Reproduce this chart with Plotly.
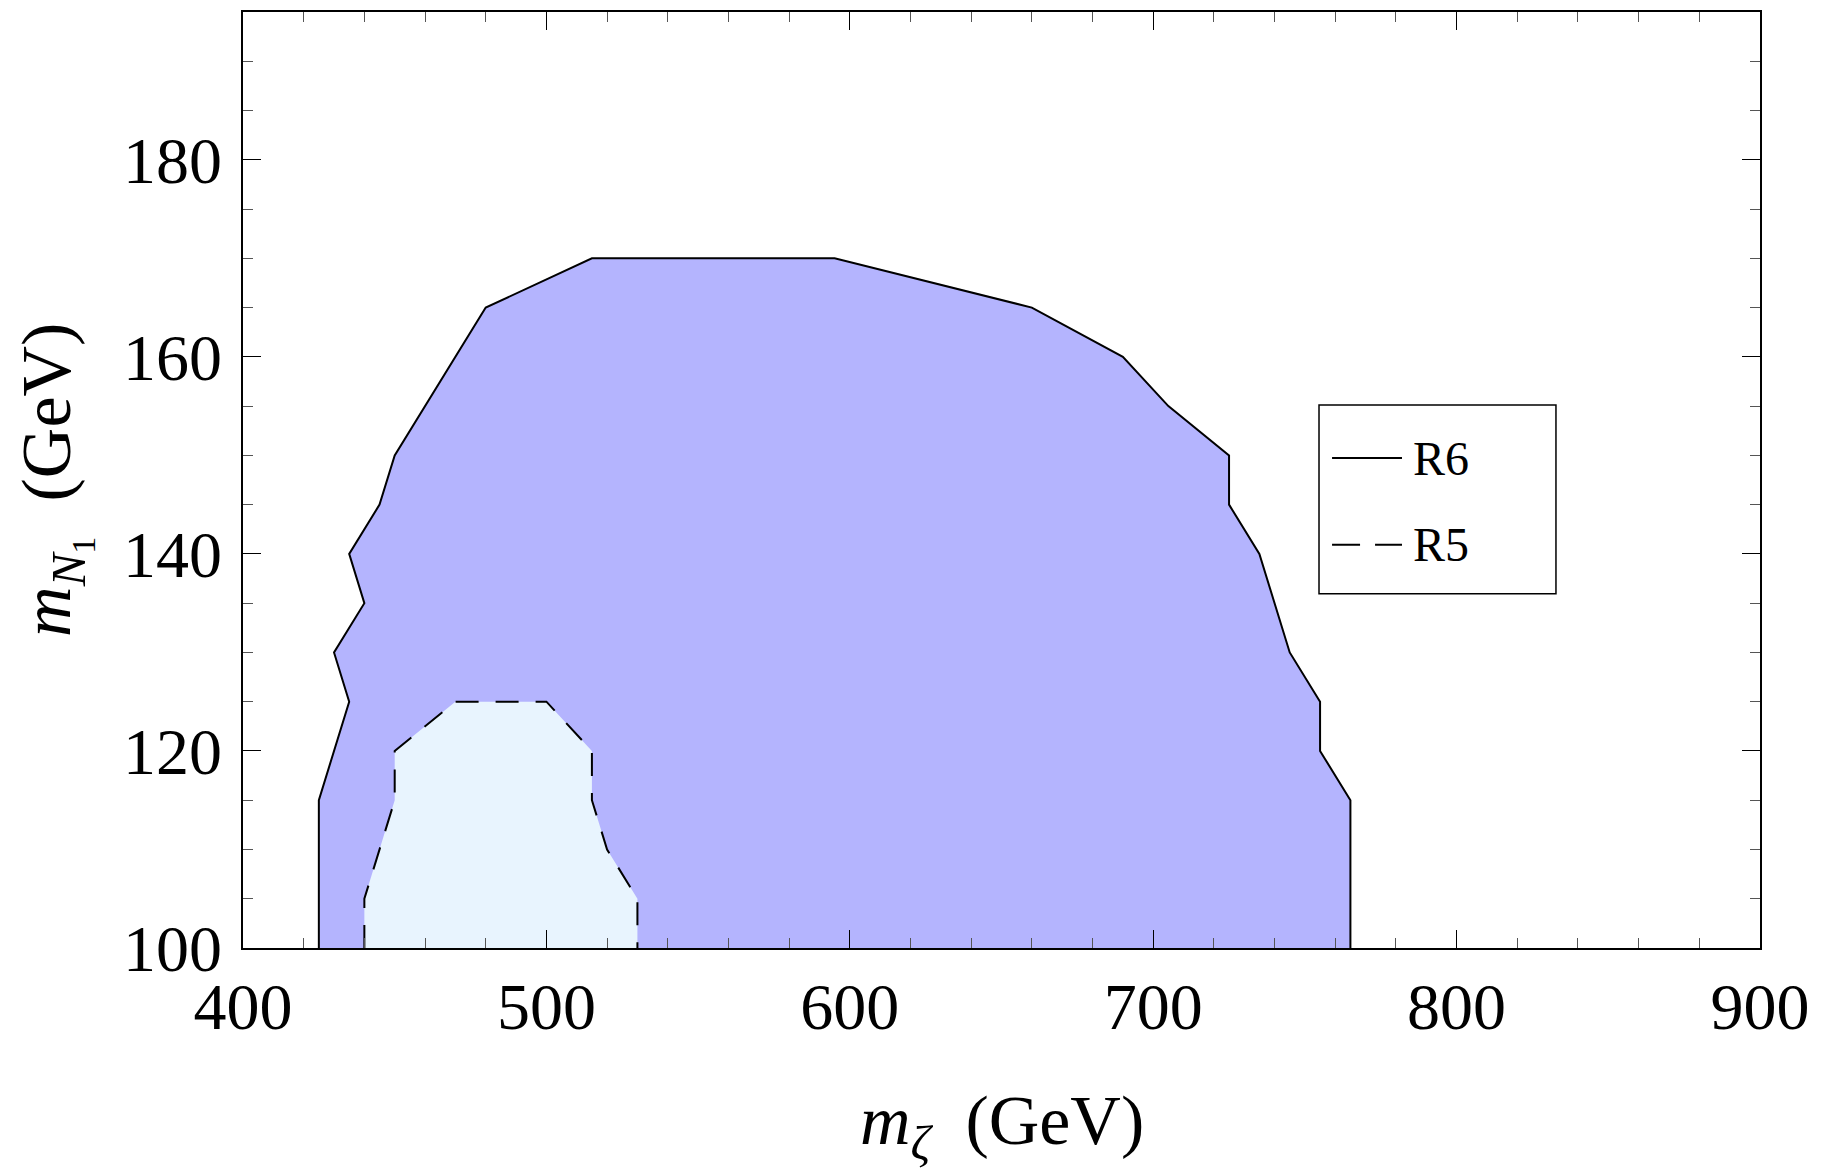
import plotly.graph_objects as go

# R6 boundary (m_zeta, m_N1) in GeV
r6_mzeta = [425, 425, 435, 430, 440, 435, 445, 450, 480, 515, 595, 660, 690, 705, 725, 725, 735, 745, 755, 755, 765, 765]
r6_mn1 = [100, 115, 125, 130, 135, 140, 145, 150, 165, 170, 170, 165, 160, 155, 150, 145, 140, 130, 125, 120, 115, 100]

# R5 boundary
r5_mzeta = [440, 440, 450, 450, 470, 500, 515, 515, 520, 530, 530]
r5_mn1 = [100, 105, 115, 120, 125, 125, 120, 115, 110, 105, 100]

legend_labels = ["R6", "R5"]
x_ticks = [400, 500, 600, 700, 800, 900]
y_ticks = [100, 120, 140, 160, 180]

FONT = "Liberation Serif"

fig = go.Figure()
fig.add_trace(go.Scatter(x=r6_mzeta, y=r6_mn1, fill="toself", fillcolor="#b4b4fe",
                         mode="lines", line=dict(color="black", width=2), showlegend=False))
fig.add_trace(go.Scatter(x=r5_mzeta, y=r5_mn1, fill="toself", fillcolor="#e8f4fe",
                         mode="lines", line=dict(color="black", width=2, dash="23px,17px"), showlegend=False))

axis_common = dict(
    showgrid=False, zeroline=False, showline=True, linecolor="black", linewidth=1.5,
    mirror="allticks", ticks="inside", ticklen=18, tickwidth=1.2, tickcolor="black",
    tickfont=dict(family=FONT, size=66, color="black"),
)

fig.update_xaxes(range=[400, 900], tickvals=x_ticks, ticktext=[str(v) for v in x_ticks],
                 minor=dict(dtick=20, tick0=400, ticks="inside", ticklen=10, tickcolor="#555", tickwidth=1.2),
                 ticklabelstandoff=0, **axis_common)
fig.update_yaxes(range=[100, 195], tickvals=y_ticks, ticktext=[str(v) for v in y_ticks],
                 minor=dict(dtick=5, tick0=100, ticks="inside", ticklen=10, tickcolor="#555", tickwidth=1.2),
                 ticklabelstandoff=6, **axis_common)

# legend box (manual)
lx0, lx1, ly0, ly1 = 0.7093, 0.8655, 0.3785, 0.580
fig.add_shape(type="rect", xref="paper", yref="paper", x0=lx0, x1=lx1, y0=ly0, y1=ly1,
              line=dict(color="black", width=1.5), fillcolor="white", layer="above")
legend_y = [0.5235, 0.4307]
legend_dash = ["solid", "28px,15px"]
for lab, yy, ds in zip(legend_labels, legend_y, legend_dash):
    fig.add_shape(type="line", xref="paper", yref="paper", x0=0.7179, x1=0.7640, y0=yy, y1=yy,
                  line=dict(color="black", width=2, dash=ds), layer="above")
    fig.add_annotation(xref="paper", yref="paper", x=0.7699, y=yy, text=lab, showarrow=False,
                       xanchor="left", yanchor="middle", font=dict(family=FONT, size=48, color="black"))

# axis titles
fig.add_annotation(xref="paper", yref="paper", x=0.5, y=-0.19, yanchor="middle", xanchor="center",
                   text="<i>m</i><sub><i>ζ</i></sub>  (GeV)", showarrow=False,
                   font=dict(family=FONT, size=70, color="black"))
fig.add_annotation(xref="paper", yref="paper", x=-0.124, y=0.50, xanchor="center", yanchor="middle",
                   textangle=-90, text="<i>m</i><sub><i>N</i><sub>1</sub></sub>  (GeV)", showarrow=False,
                   font=dict(family=FONT, size=70, color="black"))

fig.update_layout(
    width=1831, height=1164,
    margin=dict(l=235, r=79, t=2, b=224),
    paper_bgcolor="white", plot_bgcolor="white",
    showlegend=False,
)
fig.write_html("out.html")
